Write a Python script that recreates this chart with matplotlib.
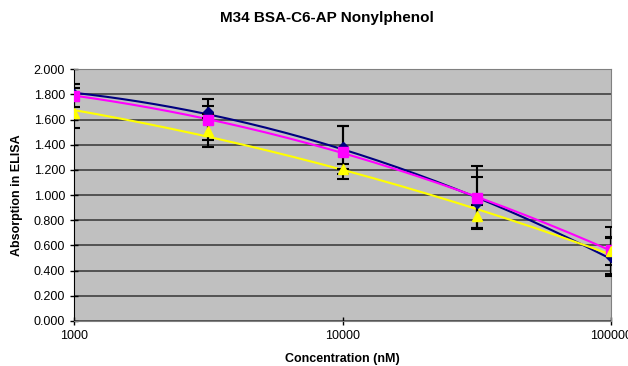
import numpy as np
import matplotlib
matplotlib.use("Agg")
import matplotlib.pyplot as plt

conc = [1000, 3162, 10000, 31623, 100000]
blue = [1.80, 1.66, 1.38, 0.94, 0.51]
blue_err = [0.05, 0.05, 0.17, 0.20, 0.15]
magenta = [1.79, 1.60, 1.34, 0.98, 0.56]
magenta_err = [0.09, 0.16, 0.21, 0.25, 0.19]
yellow = [1.65, 1.51, 1.21, 0.83, 0.555]
yellow_err = [0.12, 0.13, 0.04, 0.09, 0.11]

yticks = [0.0, 0.2, 0.4, 0.6, 0.8, 1.0, 1.2, 1.4, 1.6, 1.8, 2.0]
xticks = [1000, 10000, 100000]

plt.rcParams['font.family'] = ['Liberation Sans', 'DejaVu Sans']
fig = plt.figure(figsize=(6.28, 3.66), dpi=100)
ax = fig.add_axes([0.118, 0.123, 0.855, 0.688])
ax.set_facecolor('#C0C0C0')
ax.set_xscale('log')
ax.set_xlim(1000, 100000)
ax.set_ylim(0, 2.0)
for y in yticks:
    ax.axhline(y, color='#404040', lw=1.2, zorder=1)

series = [(blue, blue_err, '#000080', 'D', 5), (magenta, magenta_err, '#FF00FF', 's', 7), (yellow, yellow_err, '#FFFF00', '^', 7)]
lx = np.log10(conc)
xs = np.linspace(lx[0], lx[-1], 200)
for vals, err, col, mk, ms in series:
    c = np.polyfit(lx, vals, 2)
    ax.plot(10**xs, np.polyval(c, xs), color=col, lw=1.5, zorder=3)
    ax.errorbar(conc, vals, yerr=err, fmt='none', ecolor='black', elinewidth=1.5, capsize=4, capthick=1.5, zorder=4)
    ax.plot(conc, vals, linestyle='none', marker=mk, color=col, markersize=ms, zorder=5)

ax.set_yticks(yticks)
ax.set_yticklabels([f"{v:.3f}" for v in yticks], fontsize=9)
ax.set_xticks(xticks)
ax.set_xticklabels([str(v) for v in xticks], fontsize=9)
ax.minorticks_off()
ax.tick_params(axis='both', direction='inout', length=6, width=1)
for s in ['top', 'right']:
    ax.spines[s].set_color('#808080')
ax.spines['bottom'].set_color('#808080')
ax.spines['left'].set_color('black')

ax.set_xlabel('Concentration (nM)', fontsize=9, fontweight='bold', labelpad=8)
ax.set_ylabel('Absorption in ELISA', fontsize=9, fontweight='bold', labelpad=8)
fig.text(0.52, 0.95, 'M34 BSA-C6-AP Nonylphenol', ha='center', va='center', fontsize=11, fontweight='bold')

fig.savefig('out.png', dpi=100)
